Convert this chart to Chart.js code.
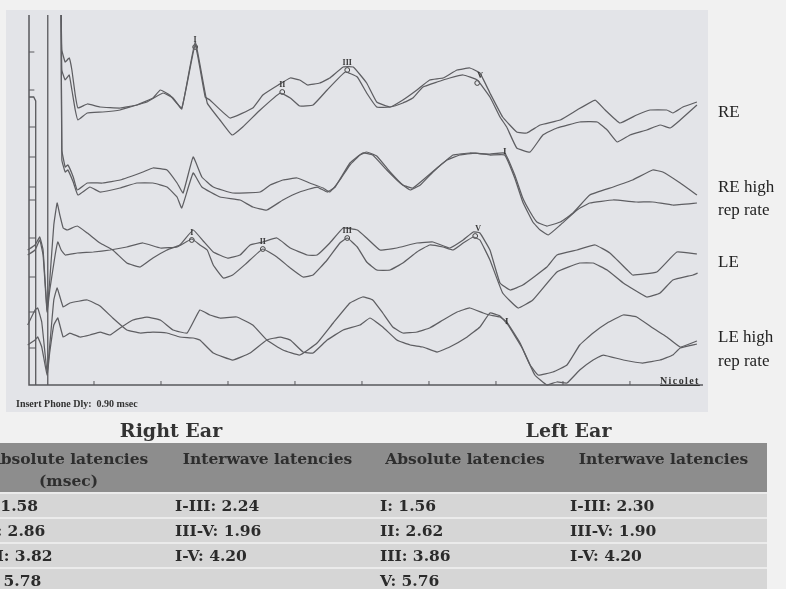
<!DOCTYPE html>
<html>
<head>
<meta charset="utf-8">
<script src="https://cdn.jsdelivr.net/npm/chart.js@4.4.0/dist/chart.umd.min.js"></script>
<style>
    html, body { margin: 0; padding: 0; }
    body { width: 786px; height: 589px; background: #f1f1f1; position: relative; overflow: hidden; }
    #plotBg { position: absolute; left: 6px; top: 10px; width: 702px; height: 402px; background: #e3e4e8; }
    #wrap { position: absolute; left: 0; top: 0; width: 786px; height: 415px; }
    .side { position: absolute; left: 718px; font: 17px "Liberation Serif", serif; line-height: 1; color: #222; white-space: nowrap; }
    #dly { position: absolute; left: 16px; top: 399px; font: bold 10px "Liberation Serif", serif; line-height: 1; color: #333; }
    #nicolet { position: absolute; left: 660px; top: 376px; font: bold 10px "Liberation Serif", serif; letter-spacing: 1.4px; line-height: 1; color: #333; text-decoration: underline; }
    #tbl { position: absolute; left: -28px; top: 418px; display: grid;
        grid-template-columns: 193px 205px 190px 207px; grid-template-rows: 25px 49px 25px 25px 25px 25px; }
    #tbl div { box-sizing: border-box; font-family: "DejaVu Serif", serif; font-weight: bold; color: #2b2b2b; white-space: nowrap; overflow: hidden; }
    #tbl .ttl { grid-column: span 2; text-align: center; font-size: 19px; line-height: 25px; color: #333; }
    #tbl .hd { background: #8d8d8d; text-align: center; font-size: 15.5px; line-height: 22px; padding-top: 5px; color: #2e2e2e; }
    #tbl .cell { background: #d6d6d6; border-top: 2px solid #ebebeb; font-size: 15.5px; line-height: 23px; padding-left: 10px; }
</style>
</head>
<body>
<div id="plotBg"></div>
<div id="wrap"><canvas id="abr" width="786" height="415"></canvas></div>
<div class="side" style="top:103px">RE</div>
<div class="side" style="top:178px">RE high</div>
<div class="side" style="top:201px">rep rate</div>
<div class="side" style="top:253px">LE</div>
<div class="side" style="top:328px">LE high</div>
<div class="side" style="top:352px">rep rate</div>
<div id="dly">Insert Phone Dly:&nbsp; 0.90 msec</div>
<div id="nicolet">Nicolet</div>
<div id="tbl"></div>
<script>
// traces: [time (ms), amplitude (display units)]
var re1 = [[0.51,370],[0.52,335],[0.57,323],[0.63,327],[0.67,315],[0.72,290],[0.76,277],[0.90,281],[1.09,278],[1.39,277],[1.64,280],[1.88,287],[1.99,295],[2.13,290],[2.31,277],[2.51,340],[2.66,288],[2.73,285],[3.03,267],[3.37,277],[3.52,290],[3.75,300],[3.93,307],[4.07,305],[4.19,300],[4.37,302],[4.52,307],[4.72,318],[4.87,318],[5.07,302],[5.22,283],[5.42,278],[5.61,285],[5.82,295],[6.01,305],[6.21,307],[6.42,315],[6.61,317],[6.76,312],[6.91,292],[7.10,268],[7.31,253],[7.46,252],[7.66,260],[7.96,265],[8.21,275],[8.48,285],[8.63,275],[8.85,262],[9.10,270],[9.30,275],[9.55,275],[9.64,272],[9.79,278],[10.00,283]];
var re2 = [[0.51,370],[0.52,315],[0.57,305],[0.63,310],[0.67,295],[0.72,275],[0.76,265],[0.90,272],[1.13,273],[1.39,275],[1.54,278],[1.79,283],[2.03,292],[2.18,287],[2.31,276],[2.51,343],[2.69,282],[2.88,265],[3.06,250],[3.22,258],[3.48,275],[3.78,292],[3.93,287],[4.07,279],[4.27,280],[4.48,295],[4.75,313],[4.93,308],[5.07,292],[5.22,278],[5.42,278],[5.61,282],[5.76,287],[5.91,298],[6.12,303],[6.31,307],[6.51,310],[6.72,305],[6.91,288],[7.06,268],[7.16,258],[7.31,237],[7.51,233],[7.70,250],[7.91,257],[8.25,263],[8.51,263],[8.66,255],[8.81,243],[9.00,250],[9.25,255],[9.45,260],[9.60,257],[9.75,265],[10.00,280]];
var reHigh1 = [[0.51,370],[0.52,235],[0.57,218],[0.61,220],[0.69,208],[0.75,195],[0.90,202],[1.13,202],[1.39,205],[1.73,213],[1.88,217],[2.09,215],[2.24,202],[2.33,192],[2.48,228],[2.61,208],[2.78,198],[3.07,192],[3.48,193],[3.63,200],[3.82,205],[4.03,207],[4.22,202],[4.42,197],[4.52,193],[4.67,205],[4.82,220],[4.97,230],[5.07,233],[5.22,229],[5.42,213],[5.61,200],[5.76,197],[5.91,205],[6.12,217],[6.36,230],[6.61,232],[6.91,231],[7.13,232],[7.28,210],[7.40,187],[7.51,173],[7.61,163],[7.76,159],[7.96,163],[8.15,172],[8.40,190],[8.75,198],[9.04,205],[9.34,215],[9.49,213],[9.75,202],[10.00,190]];
var reHigh2 = [[0.51,370],[0.52,225],[0.57,213],[0.61,215],[0.69,203],[0.76,190],[0.94,198],[1.09,193],[1.39,197],[1.64,202],[1.88,202],[2.09,198],[2.24,188],[2.31,177],[2.48,212],[2.61,198],[2.88,188],[3.18,185],[3.37,178],[3.58,175],[3.82,185],[4.07,193],[4.33,198],[4.48,193],[4.60,198],[4.82,222],[5.01,232],[5.16,230],[5.37,215],[5.57,202],[5.72,195],[5.87,200],[6.06,213],[6.27,225],[6.46,230],[6.69,232],[6.91,230],[7.13,230],[7.28,207],[7.40,183],[7.55,163],[7.66,155],[7.78,150],[7.96,160],[8.21,175],[8.40,182],[8.75,185],[9.10,183],[9.34,183],[9.64,180],[10.00,182]];
var le1 = [[0.01,135],[0.12,140],[0.19,148],[0.24,135],[0.30,75],[0.34,105],[0.40,160],[0.45,182],[0.49,170],[0.54,157],[0.60,155],[0.75,159],[0.90,152],[1.09,142],[1.28,135],[1.49,122],[1.69,118],[1.88,127],[2.09,135],[2.28,140],[2.48,155],[2.63,144],[2.78,133],[2.99,127],[3.18,130],[3.33,140],[3.52,143],[3.73,147],[3.93,137],[4.18,130],[4.33,130],[4.52,142],[4.72,157],[4.93,155],[5.07,147],[5.27,135],[5.52,137],[5.82,142],[6.06,143],[6.31,137],[6.51,145],[6.66,153],[6.76,152],[6.91,135],[7.06,102],[7.21,95],[7.40,100],[7.76,118],[7.91,130],[8.21,135],[8.48,140],[8.70,132],[8.96,115],[9.04,110],[9.40,113],[9.70,133],[10.00,131]];
var le2 = [[0.01,130],[0.12,135],[0.19,145],[0.24,130],[0.30,73],[0.34,95],[0.42,130],[0.46,143],[0.51,135],[0.57,130],[0.75,132],[0.99,133],[1.24,135],[1.49,138],[1.73,142],[1.99,137],[2.24,138],[2.46,146],[2.58,140],[2.69,135],[2.78,120],[2.93,107],[3.07,110],[3.28,122],[3.52,136],[3.73,128],[3.93,117],[4.12,108],[4.27,110],[4.48,125],[4.67,142],[4.78,147],[4.93,138],[5.07,123],[5.22,115],[5.42,115],[5.61,122],[5.82,133],[6.01,140],[6.21,138],[6.36,135],[6.51,142],[6.66,148],[6.76,145],[6.91,125],[7.10,92],[7.33,77],[7.55,85],[7.91,113],[8.25,122],[8.45,122],[8.66,115],[8.90,102],[9.25,88],[9.45,92],[9.64,105],[9.94,110],[10.01,112]];
var leHigh1 = [[0.01,60],[0.12,75],[0.16,77],[0.22,63],[0.30,13],[0.34,40],[0.40,85],[0.45,97],[0.54,78],[0.64,82],[0.90,85],[1.09,79],[1.28,67],[1.49,55],[1.69,52],[1.88,53],[2.09,52],[2.28,48],[2.48,47],[2.58,45],[2.78,32],[3.07,25],[3.33,32],[3.58,45],[3.78,48],[3.93,45],[4.12,33],[4.27,32],[4.48,45],[4.72,55],[4.97,60],[5.12,67],[5.31,58],[5.52,45],[5.72,40],[5.91,38],[6.12,33],[6.31,38],[6.57,48],[6.76,58],[6.91,72],[7.06,69],[7.18,60],[7.39,37],[7.58,10],[7.76,0],[7.91,3],[8.06,2],[8.25,15],[8.45,25],[8.60,30],[8.90,25],[9.19,22],[9.45,25],[9.64,30],[9.75,37],[10.00,41]];
var leHigh2 = [[0.01,40],[0.12,45],[0.16,48],[0.22,38],[0.30,10],[0.34,33],[0.40,60],[0.46,67],[0.54,48],[0.64,52],[0.79,48],[0.94,50],[1.09,53],[1.24,50],[1.39,57],[1.58,65],[1.79,68],[1.99,65],[2.18,55],[2.39,52],[2.58,75],[2.73,70],[2.88,67],[3.13,68],[3.37,60],[3.58,45],[3.82,35],[4.07,30],[4.33,42],[4.57,62],[4.82,82],[5.01,88],[5.16,85],[5.31,72],[5.46,58],[5.61,52],[5.82,53],[6.01,57],[6.21,65],[6.42,73],[6.61,77],[6.81,72],[6.91,70],[7.06,68],[7.16,63],[7.36,42],[7.51,20],[7.63,10],[7.85,13],[8.06,20],[8.25,40],[8.45,52],[8.66,62],[8.90,70],[9.10,68],[9.34,57],[9.55,48],[9.75,38],[10.00,44]];

// peak markers
var reMarks = [[2.51,338],[3.81,293],[4.78,315],[6.72,302]];
var leMarks = [[2.46,145],[3.52,136],[4.78,147],[6.69,149]];
var peakNames = ['I', 'II', 'III', 'V'];
var highRepMarks = [[7.13,233],[7.16,63]];

// display frame (Nicolet screen)
var axisLine = [[0.03,370],[0.03,0],[10.09,0]];
var calBar = [[0.03,288],[0.10,288],[0.13,284],[0.13,0]];
var calTicks = [258, 228, 198, 185, 147, 108, 73, 37];
var axisTicks = [333, 295];
var cursorLine = [[0.31,370],[0.31,0]];
var msTicks = [1, 2, 3, 4, 5, 6, 7, 8, 9];

// latency table
var rightAbs = ['I: 1.58', 'II: 2.86', 'III: 3.82', 'V: 5.78'];
var rightInter = ['I-III: 2.24', 'III-V: 1.96', 'I-V: 4.20', ''];
var leftAbs = ['I: 1.56', 'II: 2.62', 'III: 3.86', 'V: 5.76'];
var leftInter = ['I-III: 2.30', 'III-V: 1.90', 'I-V: 4.20', ''];

var tbl = document.getElementById('tbl');
function addCell(cls, html) {
    var d = document.createElement('div');
    d.className = cls;
    d.innerHTML = html;
    tbl.appendChild(d);
}
addCell('ttl', 'Right Ear');
addCell('ttl', 'Left Ear');
addCell('hd', 'Absolute latencies<br>(msec)');
addCell('hd', 'Interwave latencies');
addCell('hd', 'Absolute latencies');
addCell('hd', 'Interwave latencies');
for (let i = 0; i < 4; i++) {
    addCell('cell', rightAbs[i]);
    addCell('cell', rightInter[i]);
    addCell('cell', leftAbs[i]);
    addCell('cell', leftInter[i]);
}

// little segments with gaps between them
function segs(list, mk) {
    var out = [];
    list.forEach(v => { out = out.concat(mk(v)); out.push([NaN, null]); });
    return out;
}
var calTickData = segs(calTicks, v => [[0.03, v], [0.13, v]]);
var axisTickData = segs(axisTicks, v => [[0.03, v], [0.11, v]]);
var msTickData = segs(msTicks, t => [[t, 0], [t, 4]]);

const traceColor = '#5e5e62';
function trace(d) {
    return { data: d, borderColor: traceColor, borderWidth: 1.25, pointRadius: 0, tension: 0.1, clip: false };
}
function frame(d, w) {
    return { data: d, borderColor: '#58585c', borderWidth: w, pointRadius: 0, tension: 0, clip: false, spanGaps: false };
}

const markLabels = {
    id: 'markLabels',
    afterDatasetsDraw(chart) {
        const ctx = chart.ctx;
        const x = chart.scales.x, y = chart.scales.y;
        ctx.save();
        ctx.fillStyle = '#3a3a3a';
        ctx.textAlign = 'center';
        ctx.textBaseline = 'bottom';
        ctx.font = 'bold 8px "Liberation Serif"';
        [reMarks, leMarks].forEach(list => {
            list.forEach((p, i) => {
                ctx.fillText(peakNames[i], x.getPixelForValue(p[0]) + (i == 3 ? 3 : 0), y.getPixelForValue(p[1]) - 3);
            });
        });
        ctx.font = 'bold 9px "Liberation Serif"';
        highRepMarks.forEach(p => {
            ctx.fillText('I', x.getPixelForValue(p[0]), y.getPixelForValue(p[1]) + 4);
        });
        ctx.restore();
    }
};

const ctx = document.getElementById('abr').getContext('2d');
const myChart = new Chart(ctx, {
    type: 'line',
    data: {
        datasets: [
            trace(re1), trace(re2), trace(reHigh1), trace(reHigh2),
            trace(le1), trace(le2), trace(leHigh1), trace(leHigh2),
            frame(axisLine, 1.5), frame(calBar, 1.3), frame(calTickData, 1), frame(axisTickData, 1),
            frame(cursorLine, 1.3), frame(msTickData, 1),
            { data: reMarks.concat(leMarks), showLine: false, pointRadius: 2.4, pointBorderWidth: 1,
              pointBorderColor: '#444', pointBackgroundColor: 'rgba(0,0,0,0)', clip: false },
        ],
    },
    options: {
        responsive: false,
        animation: false,
        layout: { padding: { left: 27, right: 81, top: 10, bottom: 30 } },
        scales: {
            x: { type: 'linear', min: 0, max: 10.12, display: false },
            y: { min: 0, max: 375, display: false },
        },
        plugins: {
            legend: { display: false },
            tooltip: { enabled: false },
        },
    },
    plugins: [markLabels],
});
</script>
</body>
</html>
